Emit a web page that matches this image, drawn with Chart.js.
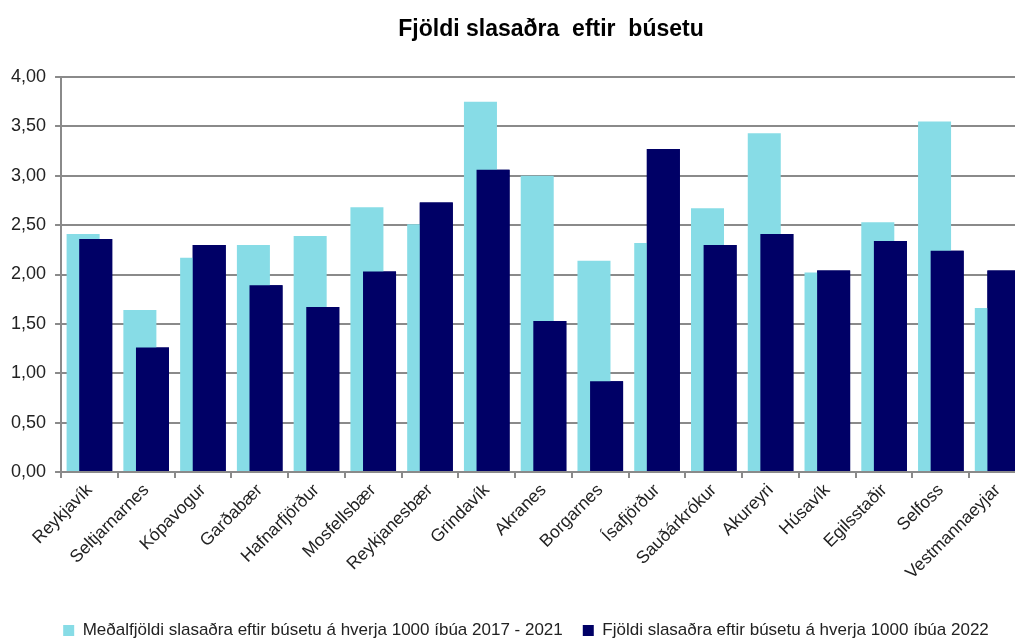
<!DOCTYPE html>
<html>
<head>
<meta charset="utf-8">
<script src="https://cdn.jsdelivr.net/npm/chart.js@4.4.0/dist/chart.umd.min.js"></script>
<style>
    html, body { margin: 0; padding: 0; background: #fff; overflow: hidden; }
    #wrap { position: relative; width: 1060px; height: 642px; }
    #title {
        position: absolute; left: 0; top: 15px; width: 1102px;
        text-align: center; white-space: pre; color: #000;
        font: bold 23px "Liberation Sans", Arial, sans-serif;
    }
</style>
</head>
<body>
<div id="wrap">
    <div id="title">Fjöldi slasaðra  eftir  búsetu</div>
    <canvas id="chart" width="1060" height="642"></canvas>
</div>
<script>
    // Chart data
    const towns = ['Reykjavík', 'Seltjarnarnes', 'Kópavogur', 'Garðabær', 'Hafnarfjörður', 'Mosfellsbær',
        'Reykjanesbær', 'Grindavík', 'Akranes', 'Borgarnes', 'Ísafjörður', 'Sauðárkrókur', 'Akureyri',
        'Húsavík', 'Egilsstaðir', 'Selfoss', 'Vestmannaeyjar'];
    const avg2017to2021 = [2.41, 1.64, 2.17, 2.30, 2.39, 2.68, 2.51, 3.75, 3.00, 2.14, 2.32, 2.67, 3.43, 2.02, 2.53, 3.55, 1.66];
    const rate2022 = [2.36, 1.26, 2.30, 1.89, 1.67, 2.03, 2.73, 3.06, 1.53, 0.92, 3.27, 2.30, 2.41, 2.04, 2.34, 2.24, 2.04];
    const seriesLabels = ['Meðalfjöldi slasaðra eftir búsetu á hverja 1000 íbúa 2017 - 2021',
        'Fjöldi slasaðra eftir búsetu á hverja 1000 íbúa 2022'];
    const yTickLabels = ['0,00', '0,50', '1,00', '1,50', '2,00', '2,50', '3,00', '3,50', '4,00'];

    const FONT = '"Liberation Sans", Arial, sans-serif';
    const GRID = '#8a8a8a';

    // Chart.js draws the first dataset on top; redraw the 2022 bars so they overlap the average bars
    const darkOnTop = {
        id: 'darkOnTop',
        afterDatasetsDraw: function(chart) {
            const area = chart.chartArea;
            const ctx = chart.ctx;
            ctx.save();
            ctx.beginPath();
            ctx.rect(area.left, area.top, area.right - area.left, area.bottom - area.top);
            ctx.clip();
            chart.getDatasetMeta(1).controller.draw();
            ctx.restore();
        }
    };

    // The legend in the original sits a little right of the plot's centre
    const legendShift = {
        id: 'legendShift',
        afterLayout: function(chart) {
            chart.legend.left += 12;
            chart.legend.right += 12;
        }
    };

    new Chart(document.getElementById('chart'), {
        type: 'bar',
        data: {
            labels: towns,
            datasets: [{
                label: seriesLabels[0],
                data: avg2017to2021,
                backgroundColor: '#87dce6',
                borderWidth: 0,
                categoryPercentage: 0.444,
                barPercentage: 2.62
            }, {
                label: seriesLabels[1],
                data: rate2022,
                backgroundColor: '#000066',
                borderWidth: 0,
                categoryPercentage: 0.444,
                barPercentage: 2.62
            }]
        },
        options: {
            responsive: false,
            animation: false,
            layout: {
                padding: { left: 2, right: 34, top: 77, bottom: -7 }
            },
            plugins: {
                title: { display: false },
                tooltip: { enabled: false },
                legend: {
                    position: 'bottom',
                    labels: {
                        boxWidth: 11,
                        boxHeight: 11,
                        padding: 20,
                        color: '#222',
                        font: { family: FONT, size: 17 }
                    }
                }
            },
            scales: {
                x: {
                    grid: {
                        display: true,
                        drawOnChartArea: false,
                        offset: true,
                        color: GRID,
                        lineWidth: 2,
                        tickLength: 6
                    },
                    border: { color: GRID, width: 2 },
                    ticks: {
                        autoSkip: false,
                        minRotation: 45,
                        maxRotation: 45,
                        padding: 2,
                        color: '#222',
                        font: { family: FONT, size: 17.5 }
                    },
                    afterFit: function(scale) {
                        scale.height = 130;
                    }
                },
                y: {
                    min: 0,
                    max: 4,
                    grid: { color: GRID, lineWidth: 2, tickLength: 6 },
                    border: { color: GRID, width: 2 },
                    ticks: {
                        stepSize: 0.5,
                        padding: 9,
                        color: '#222',
                        font: { family: FONT, size: 18 },
                        callback: function(value, index) {
                            return yTickLabels[index];
                        }
                    }
                }
            }
        },
        plugins: [darkOnTop, legendShift]
    });
</script>
</body>
</html>
